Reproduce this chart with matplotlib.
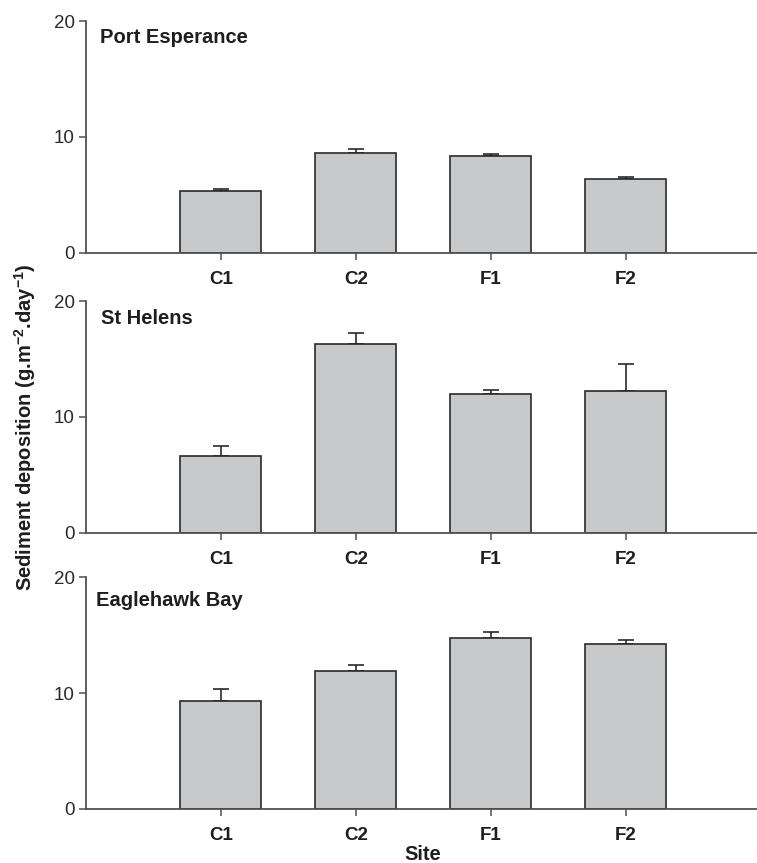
import matplotlib
matplotlib.use("Agg")
import matplotlib.pyplot as plt
import numpy as np

plt.rcParams["font.family"] = ["Liberation Sans", "DejaVu Sans"]
plt.rcParams["mathtext.fontset"] = "custom"
plt.rcParams["mathtext.bf"] = "Liberation Sans:bold"
plt.rcParams["mathtext.rm"] = "Liberation Sans:bold"
plt.rcParams["mathtext.default"] = "bf"

sites = ["C1", "C2", "F1", "F2"]
locations = ["Port Esperance", "St Helens", "Eaglehawk Bay"]

port_esperance_mean = [5.33, 8.64, 8.38, 6.39]
port_esperance_se = [0.17, 0.29, 0.12, 0.17]
st_helens_mean = [6.62, 16.29, 12.00, 12.26]
st_helens_se = [0.87, 0.98, 0.35, 2.31]
eaglehawk_mean = [9.28, 11.93, 14.75, 14.23]
eaglehawk_se = [1.04, 0.46, 0.55, 0.35]

means = [port_esperance_mean, st_helens_mean, eaglehawk_mean]
errors = [port_esperance_se, st_helens_se, eaglehawk_se]
yticks = [0, 10, 20]

W, H = 757, 863
fig = plt.figure(figsize=(W / 100, H / 100), dpi=100)

left_px, right_px = 85.7, 757.0
panels_px = [(21.0, 252.7), (301.0, 532.7), (577.3, 808.7)]
title_y = [0.906, 0.899, 0.877]
title_x = [0.021, 0.023, 0.015]

text_col = "#1e1e1e"
spine_col = "#505050"
bar_col = "#c8c9cb"
edge_col = "#2a2a2a"

x = np.arange(1, len(sites) + 1)
for i, (top, bot) in enumerate(panels_px):
    ax = fig.add_axes([left_px / W, 1 - bot / H, (right_px - left_px) / W, (bot - top) / H])
    ax.bar(x, means[i], width=0.6, color=bar_col, edgecolor=edge_col, linewidth=1.2, zorder=2)
    err = np.array(errors[i])
    ax.errorbar(x, means[i], yerr=[np.zeros_like(err), err], fmt="none",
                ecolor=edge_col, elinewidth=1.2, capsize=5.5, capthick=1.2, zorder=1)
    ax.set_xlim(0, (right_px - left_px) / 135.0)
    ax.set_ylim(0, 20)
    ax.set_yticks(yticks)
    ax.set_xticks(x)
    ax.set_xticklabels(sites, fontsize=13.5, fontweight="bold", color=text_col)
    ax.tick_params(axis="y", labelsize=13.5, colors=spine_col, labelcolor="#2a2a2a",
                   length=5, width=1.1, pad=3)
    ax.tick_params(axis="x", colors=spine_col, labelcolor=text_col,
                   length=5, width=1.1, pad=8)
    for s in ["top", "right"]:
        ax.spines[s].set_visible(False)
    for s in ["left", "bottom"]:
        ax.spines[s].set_color(spine_col)
        ax.spines[s].set_linewidth(1.3)
    ax.text(title_x[i], title_y[i], locations[i], transform=ax.transAxes,
            fontsize=14.5, fontweight="bold", color=text_col, va="baseline", ha="left")

fig.text(25 / W, 1 - 427 / H, r"Sediment deposition (g.m$^{-2}$.day$^{-1}$)",
         rotation=90, ha="center", va="center", fontsize=14.5, fontweight="bold", color=text_col)
fig.text(423 / W, 1 - 854 / H, "Site", ha="center", va="center",
         fontsize=14.5, fontweight="bold", color=text_col)

fig.savefig("out.png", dpi=100)
